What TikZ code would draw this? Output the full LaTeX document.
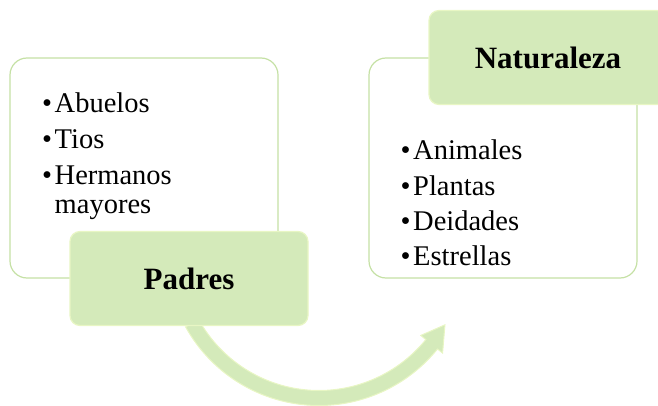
\documentclass[tikz,border=0pt]{standalone}
\usepackage{fontspec}
\setmainfont{Liberation Serif}
\definecolor{verdeclaro}{RGB}{212,234,186}
\definecolor{bordeverde}{RGB}{197,225,165}
\definecolor{bordeamarillo}{RGB}{232,246,196}
\newcommand{\punto}[1]{\makebox[12.5pt][l]{\textbullet}#1}
\begin{document}
\begin{tikzpicture}[x=1pt,y=-1pt,
        caja/.style={draw=bordeverde, line width=1.2pt, fill=white, rounded corners=17pt,
            minimum width=268pt, minimum height=220pt},
        titulo/.style={draw=bordeamarillo, line width=1.2pt, fill=verdeclaro, rounded corners=10pt,
            minimum width=238pt, minimum height=94pt, font=\fontsize{31}{36}\selectfont\bfseries},
        lista/.style={anchor=base west, inner sep=0pt, font=\fontsize{28.5}{30}\selectfont},
        flecha/.style={fill=verdeclaro, draw=bordeamarillo, line width=1pt}]
        \useasboundingbox (0,0) rectangle (658,406);
        \clip (0,0) rectangle (658,406);
        \coordinate (centro) at (319,253); % centre of the curved arrow
        \filldraw[flecha] ([shift={(centro)}]151:152.5) arc[start angle=151, end angle=39, radius=152.5]
            -- ([shift={(centro)}]39:159) -- ([shift={(centro)}]29.7:145) -- ([shift={(centro)}]39:131)
            -- ([shift={(centro)}]39:137.5) arc[start angle=39, end angle=151, radius=137.5] -- cycle;
        \node[caja] (familia) at (144,168) {}; % left
        \node[caja] (mundo) at (503,168) {}; % right
        \node[lista] (abuelos) at (42,112.5) {\punto{Abuelos}};
        \node[lista] (tios) at (42,148.3) {\punto{Tios}};
        \node[lista] (hermanos) at (42,184.3) {\punto{Hermanos}};
        \node[lista] (mayores) at (54.5,213.5) {mayores};
        \node[lista] (animales) at (400.5,160) {\punto{Animales}};
        \node[lista] (plantas) at (400.5,195) {\punto{Plantas}};
        \node[lista] (deidades) at (400.5,230) {\punto{Deidades}};
        \node[lista] (estrellas) at (400.5,265) {\punto{Estrellas}};
        \node[titulo] (padres) at (189,278.5) {Padres};
        \node[titulo] (naturaleza) at (548,57.5) {Naturaleza};
    \end{tikzpicture}
\end{document}
